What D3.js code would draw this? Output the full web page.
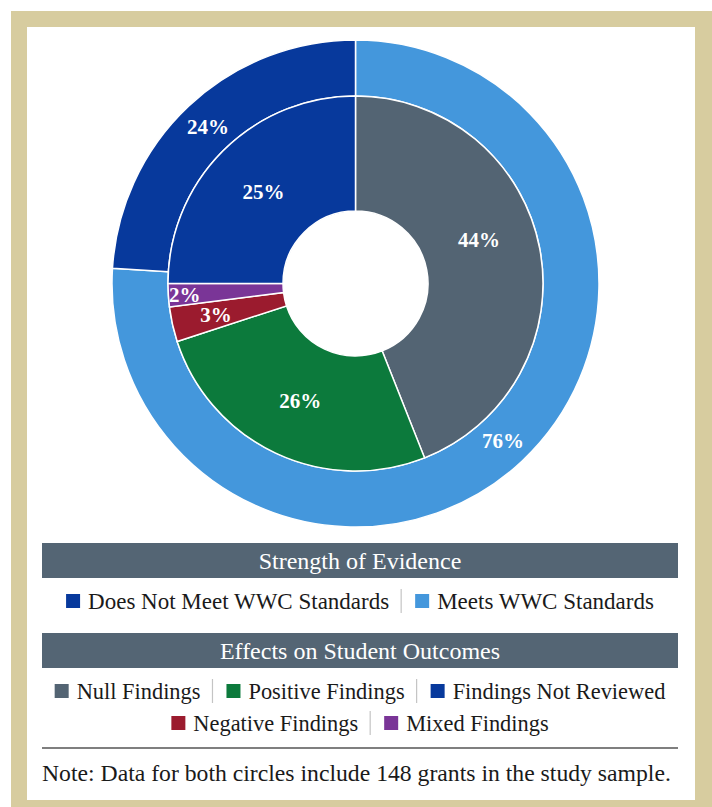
<!DOCTYPE html>
<meta charset="utf-8">
<head>
  <title>Strength of Evidence and Effects on Student Outcomes</title>
  <style>
    body { margin: 0; background: #fff; }
    text { font-family: "Liberation Serif", "DejaVu Serif", serif; }
  </style>
</head>
<script src="https://d3js.org/d3.v7.min.js"></script>
<div id="my_dataviz"></div>
<script>

// outer ring: strength of evidence (ring order, clockwise from 12 o'clock)
var strengthCats = ["Meets WWC Standards", "Does Not Meet WWC Standards"];
var strengthVals = [76, 24];
var strengthLegend = ["Does Not Meet WWC Standards", "Meets WWC Standards"];

// inner pie: effects on student outcomes
var effectCats = ["Null Findings", "Positive Findings", "Negative Findings", "Mixed Findings", "Findings Not Reviewed"];
var effectVals = [44, 26, 3, 2, 25];
var effectLegendRows = [
  ["Null Findings", "Positive Findings", "Findings Not Reviewed"],
  ["Negative Findings", "Mixed Findings"]
];

var noteText = "Note: Data for both circles include 148 grants in the study sample.";

var width = 712, height = 807;

var color = d3.scaleOrdinal()
  .domain(["Meets WWC Standards", "Does Not Meet WWC Standards",
           "Null Findings", "Positive Findings", "Negative Findings", "Mixed Findings", "Findings Not Reviewed"])
  .range(["#4497dc", "#07399c", "#536473", "#0c7a3c", "#9b1b2e", "#7a3597", "#07399c"]);

var svg = d3.select("#my_dataviz")
  .append("svg")
    .attr("width", width)
    .attr("height", height);

// beige frame
svg.append("rect")
  .attr("x", 11).attr("y", 11)
  .attr("width", width - 11).attr("height", height - 11)
  .attr("fill", "#d7cc9f");
svg.append("rect")
  .attr("x", 27).attr("y", 27)
  .attr("width", 668).attr("height", 773)
  .attr("fill", "#fff");

var cx = 355.5, cy = 283.5;
var rHole = 72.5, rMid = 187.5, rOut = 243.5;

var pie = d3.pie().sort(null).value(function(d) { return d.v; });

var g = svg.append("g")
  .attr("transform", "translate(" + cx + "," + cy + ")");

// outer ring
var outerData = pie(strengthCats.map(function(c, i) { return {c: c, v: strengthVals[i]}; }));
var outerArc = d3.arc().innerRadius(rMid).outerRadius(rOut);

g.selectAll(".outer")
  .data(outerData)
  .enter().append("path")
    .attr("class", "outer")
    .attr("d", outerArc)
    .attr("fill", function(d) { return color(d.data.c); })
    .attr("stroke", "#fff")
    .attr("stroke-width", 1.5);

// inner pie
var innerData = pie(effectCats.map(function(c, i) { return {c: c, v: effectVals[i]}; }));
var innerArc = d3.arc().innerRadius(rHole).outerRadius(rMid);

g.selectAll(".inner")
  .data(innerData)
  .enter().append("path")
    .attr("class", "inner")
    .attr("d", innerArc)
    .attr("fill", function(d) { return color(d.data.c); })
    .attr("stroke", "#fff")
    .attr("stroke-width", 1.5);

// percentage labels
g.selectAll(".olab")
  .data(outerData)
  .enter().append("text")
    .attr("class", "olab")
    .attr("transform", function(d) { return "translate(" + outerArc.centroid(d) + ")"; })
    .attr("text-anchor", "middle")
    .attr("dy", "0.35em")
    .attr("fill", "#fff")
    .style("font-size", "21px")
    .style("font-weight", "bold")
    .text(function(d) { return d.data.v + "%"; });

// small slices get pushed outward, the big grey one turned a bit
var labelR = {"Negative Findings": 143, "Mixed Findings": 171, "Null Findings": 131};
var labelTurn = {"Null Findings": -0.15};

g.selectAll(".ilab")
  .data(innerData)
  .enter().append("text")
    .attr("class", "ilab")
    .attr("transform", function(d) {
      var a = (d.startAngle + d.endAngle) / 2 + (labelTurn[d.data.c] || 0);
      var r = labelR[d.data.c] || (rHole + rMid) / 2;
      return "translate(" + (r * Math.sin(a)) + "," + (-r * Math.cos(a)) + ")";
    })
    .attr("text-anchor", "middle")
    .attr("dy", "0.35em")
    .attr("fill", "#fff")
    .style("font-size", "21px")
    .style("font-weight", "bold")
    .text(function(d) { return d.data.v + "%"; });

// header bars
function header(y, label) {
  svg.append("rect")
    .attr("x", 42).attr("y", y)
    .attr("width", 636).attr("height", 35)
    .attr("fill", "#546574");
  svg.append("text")
    .attr("x", 360).attr("y", y + 26)
    .attr("text-anchor", "middle")
    .attr("fill", "#fff")
    .style("font-size", "24px")
    .text(label);
}

// one legend row, centred
function legendRow(items, baseline, size) {
  var row = svg.append("g");
  var x = 0;
  items.forEach(function(name, i) {
    if (i > 0) {
      row.append("line")
        .attr("x1", x + 12).attr("x2", x + 12)
        .attr("y1", baseline - 20).attr("y2", baseline + 4)
        .attr("stroke", "#c4c4c4")
        .attr("stroke-width", 1.2);
      x += 26;
    }
    row.append("rect")
      .attr("x", x).attr("y", baseline - 15)
      .attr("width", 14).attr("height", 14)
      .attr("fill", color(name));
    var t = row.append("text")
      .attr("x", x + 22).attr("y", baseline)
      .attr("fill", "#1a1a1a")
      .style("font-size", size + "px")
      .text(name);
    x += 22 + t.node().getComputedTextLength();
  });
  row.attr("transform", "translate(" + (360 - x / 2) + ",0)");
}

header(543, "Strength of Evidence");
legendRow(strengthLegend, 609, 23);

header(633, "Effects on Student Outcomes");
legendRow(effectLegendRows[0], 699, 22.4);
legendRow(effectLegendRows[1], 731, 22.4);

svg.append("line")
  .attr("x1", 42).attr("x2", 678)
  .attr("y1", 748).attr("y2", 748)
  .attr("stroke", "#555")
  .attr("stroke-width", 1.5);

svg.append("text")
  .attr("x", 42).attr("y", 781)
  .attr("fill", "#1a1a1a")
  .style("font-size", "23.7px")
  .text(noteText);

</script>
